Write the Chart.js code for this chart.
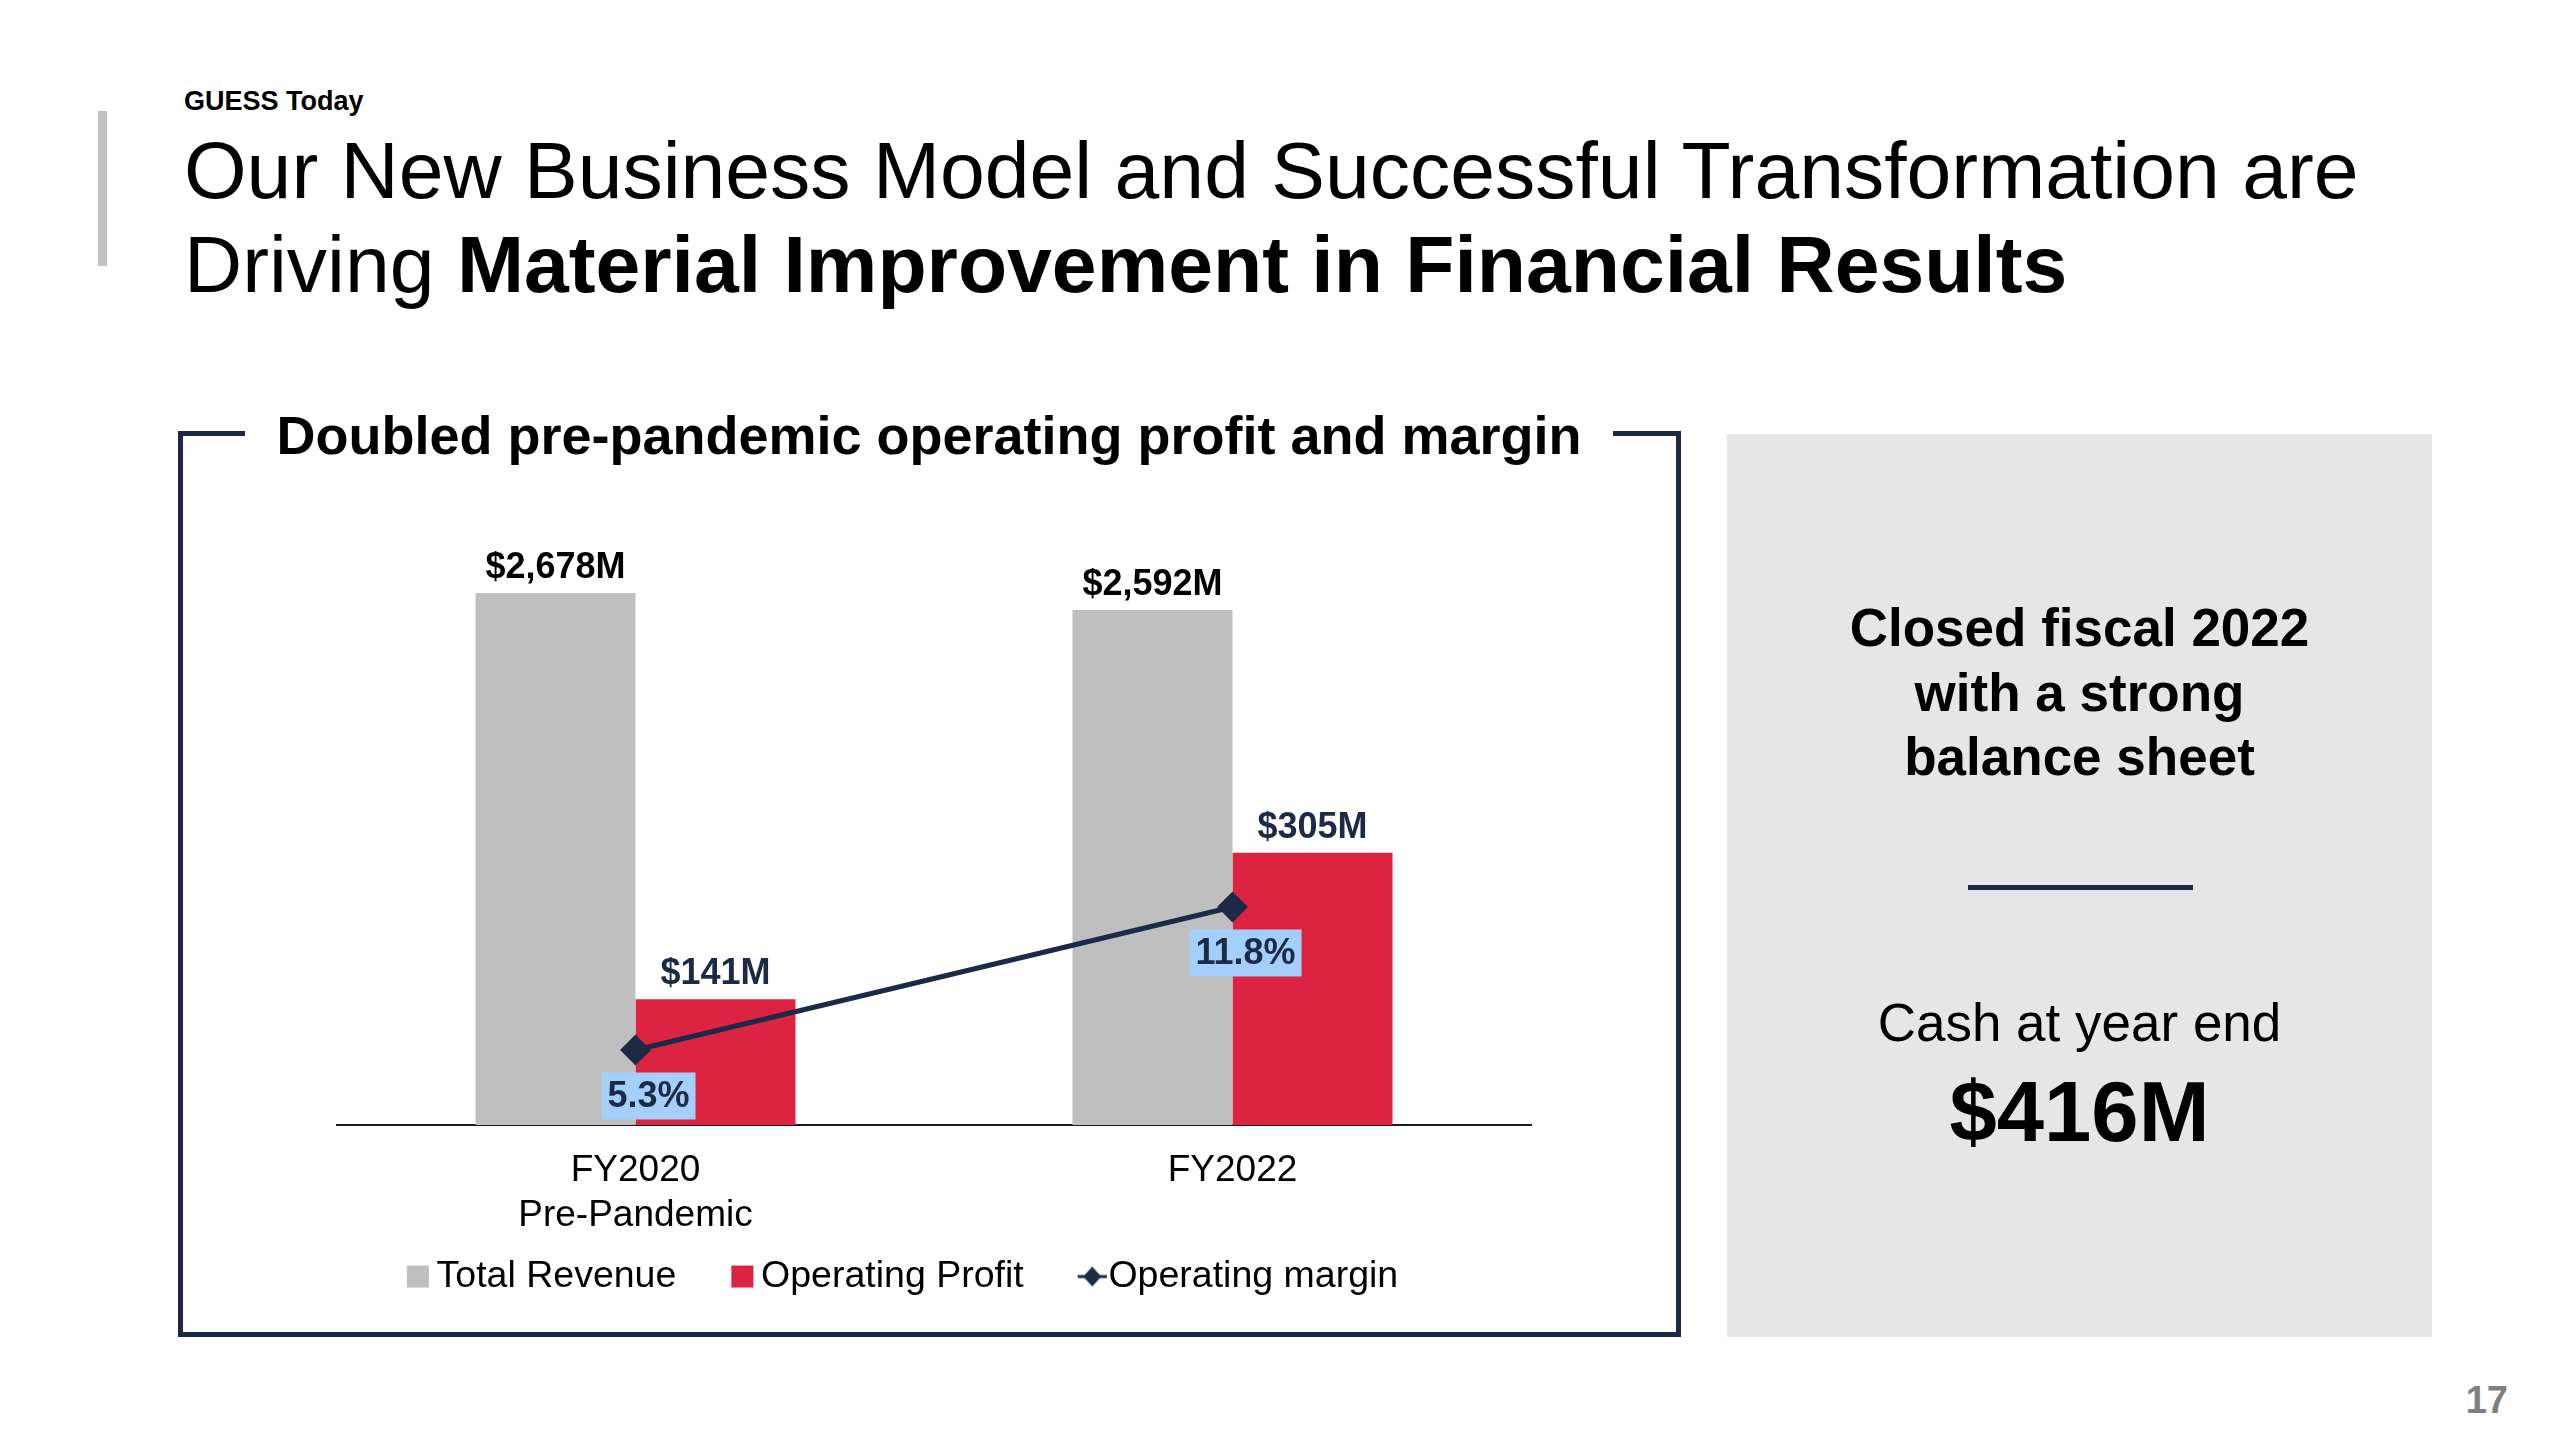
<!DOCTYPE html>
<html>
<head>
<meta charset="utf-8">
<script src="https://cdn.jsdelivr.net/npm/chart.js@4.4.1/dist/chart.umd.min.js"></script>
<style>
    body { margin: 0; width: 2560px; height: 1440px; overflow: hidden; background: #fff;
           font-family: "Liberation Sans", Arial, sans-serif; color: #000; position: relative; }
    .abs { position: absolute; }
    #barra { left: 98px; top: 111px; width: 9px; height: 155px; background: #c0c0c0; }
    #seccion { left: 184px; top: 88px; font-size: 27px; line-height: 27px; font-weight: bold; }
    #titulo { left: 184px; top: 123px; font-size: 80.5px; line-height: 94px; white-space: nowrap; }
    #caja { left: 178px; top: 431px; width: 1503px; height: 906px; box-sizing: border-box;
            border: 5px solid #1c2a44; }
    #titulo-caja { left: 245px; top: 408px; width: 1368px; background: #fff; text-align: center;
                   font-size: 54px; line-height: 54px; font-weight: bold; white-space: nowrap; }
    #contenedor { left: 190px; top: 460px; width: 1440px; height: 870px; }
    #panel { left: 1727px; top: 434px; width: 705px; height: 903px; background: #e7e6e6; }
    .centrado { left: 1727px; width: 705px; text-align: center; white-space: nowrap; }
    #cerrado { top: 596px; font-size: 53px; line-height: 64.5px; font-weight: bold; }
    #separador { left: 1968px; top: 885px; width: 225px; height: 5px; background: #1c2a44; }
    #caja-texto { top: 991px; font-size: 53px; line-height: 63.6px; }
    #caja-valor { top: 1069px; font-size: 85px; line-height: 85px; font-weight: bold; }
    #pagina { left: 2400px; width: 108px; text-align: right; top: 1381px; font-size: 38px;
              line-height: 38px; font-weight: bold; color: #7f7f7f; }
</style>
</head>
<body>
<div id="barra" class="abs"></div>
<div id="seccion" class="abs">GUESS Today</div>
<div id="titulo" class="abs">Our New Business Model and Successful Transformation are<br>Driving <b>Material Improvement in Financial Results</b></div>

<div id="caja" class="abs"></div>
<div id="titulo-caja" class="abs">Doubled pre-pandemic operating profit and margin</div>
<div id="contenedor" class="abs"><canvas id="chart-resultados"></canvas></div>

<div id="panel" class="abs"></div>
<div id="cerrado" class="abs centrado">Closed fiscal 2022<br>with a strong<br>balance sheet</div>
<div id="separador" class="abs"></div>
<div id="caja-texto" class="abs centrado">Cash at year end</div>
<div id="caja-valor" class="abs centrado">$416M</div>
<div id="pagina" class="abs">17</div>

<script>
// Datos del gráfico
const categorias = [['FY2020', 'Pre-Pandemic'], ['FY2022']];
const ingresosTotales = [2678, 2592];   // Total Revenue, $M
const beneficioOperativo = [141, 305];  // Operating Profit, $M
const margenOperativo = [5.3, 11.8];    // Operating margin, %

const AZUL = '#1c2a46';
const GRIS = '#bfbfbf';
const ROJO = '#dc2342';
const FUENTE = '"Liberation Sans", Arial, sans-serif';

Chart.defaults.font.family = FUENTE;
Chart.defaults.color = '#000';

// Formato de etiquetas
function formatoDolares(valor) {
    return '$' + valor.toLocaleString('en-US') + 'M';
}

// Iconos de la leyenda (la parte visible queda a la derecha, pegada al texto)
function iconoLeyenda(tipo, color) {
    const c = document.createElement('canvas');
    c.width = 80;
    c.height = 24;
    const g = c.getContext('2d');
    g.fillStyle = color;
    if (tipo === 'linea') {
        g.strokeStyle = color;
        g.lineWidth = 3;
        g.beginPath();
        g.moveTo(51, 12);
        g.lineTo(80, 12);
        g.stroke();
        g.beginPath();
        g.moveTo(65.5, 2);
        g.lineTo(74.5, 12);
        g.lineTo(65.5, 22);
        g.lineTo(56.5, 12);
        g.closePath();
        g.fill();
    } else {
        g.fillRect(52, 1, 22, 22);
    }
    return c;
}

// Plugin para dibujar las etiquetas de datos
const etiquetasDatos = {
    id: 'etiquetasDatos',
    afterDatasetsDraw(chart) {
        const ctx = chart.ctx;
        ctx.save();
        ctx.font = 'bold 36px ' + FUENTE;
        ctx.textAlign = 'center';
        ctx.textBaseline = 'alphabetic';

        chart.getDatasetMeta(0).data.forEach((barra, i) => {
            ctx.fillStyle = '#000';
            ctx.fillText(formatoDolares(ingresosTotales[i]), barra.x, barra.y - 15);
        });
        chart.getDatasetMeta(1).data.forEach((barra, i) => {
            ctx.fillStyle = AZUL;
            ctx.fillText(formatoDolares(beneficioOperativo[i]), barra.x, barra.y - 15);
        });

        // Etiquetas del margen con fondo celeste
        ctx.textBaseline = 'middle';
        chart.getDatasetMeta(2).data.forEach((punto, i) => {
            const texto = margenOperativo[i].toFixed(1) + '%';
            const ancho = ctx.measureText(texto).width + 12;
            const alto = 47;
            const cx = punto.x + 13;
            const cy = punto.y + 46;
            ctx.fillStyle = '#a3cffa';
            ctx.fillRect(cx - ancho / 2, cy - alto / 2, ancho, alto);
            ctx.fillStyle = AZUL;
            ctx.fillText(texto, cx, cy + 1);
        });
        ctx.restore();
    }
};

function crearGraficoResultados() {
    const ctx = document.getElementById('chart-resultados').getContext('2d');

    const chartData = {
        labels: categorias,
        datasets: [{
            type: 'bar',
            label: 'Total Revenue',
            data: ingresosTotales,
            backgroundColor: GRIS,
            borderWidth: 0,
            yAxisID: 'yIngresos',
            order: 2,
            barPercentage: 1,
            categoryPercentage: 0.536
        }, {
            type: 'bar',
            label: 'Operating Profit',
            data: beneficioOperativo,
            backgroundColor: ROJO,
            borderWidth: 0,
            yAxisID: 'yBeneficio',
            order: 2,
            barPercentage: 1,
            categoryPercentage: 0.536
        }, {
            type: 'line',
            label: 'Operating margin',
            data: margenOperativo,
            borderColor: AZUL,
            backgroundColor: AZUL,
            borderWidth: 5,
            tension: 0,
            pointStyle: 'rectRot',
            pointRadius: 14,
            pointBorderWidth: 2,
            pointBackgroundColor: AZUL,
            pointBorderColor: AZUL,
            yAxisID: 'yMargen',
            order: 1
        }]
    };

    const iconos = [iconoLeyenda('caja', GRIS), iconoLeyenda('caja', ROJO), iconoLeyenda('linea', AZUL)];

    const opciones = {
        responsive: true,
        maintainAspectRatio: false,
        animation: false,
        layout: { padding: { left: 49, right: 99, top: 69, bottom: 24.7 } },
        plugins: {
            tooltip: { enabled: false },
            legend: {
                position: 'bottom',
                labels: {
                    usePointStyle: true,
                    pointStyleWidth: 46,
                    boxHeight: 22,
                    padding: 20,
                    color: '#000',
                    font: { size: 37.5 },
                    sort: (a, b) => a.datasetIndex - b.datasetIndex,
                    generateLabels(chart) {
                        const items = Chart.defaults.plugins.legend.labels.generateLabels(chart);
                        items.forEach(item => {
                            item.pointStyle = iconos[item.datasetIndex];
                            item.lineWidth = 0;
                        });
                        return items;
                    }
                }
            }
        },
        scales: {
            x: {
                grid: { display: false, drawTicks: false },
                border: { display: true, color: '#1a1a1a', width: 2 },
                ticks: { color: '#000', font: { size: 37 }, padding: 24, maxRotation: 0 },
                afterFit(scale) { scale.height = 112.8; }
            },
            yIngresos: {
                position: 'left',
                min: 0, max: 3000,
                grid: { display: false },
                border: { display: false },
                ticks: { display: false },
                afterFit(scale) { scale.width = 98; }
            },
            yBeneficio: { display: false, min: 0, max: 668 },
            yMargen: { display: false, min: 1.89, max: 28.98 }
        }
    };

    new Chart(ctx, {
        data: chartData,
        options: opciones,
        plugins: [etiquetasDatos]
    });
}

crearGraficoResultados();
</script>
</body>
</html>
